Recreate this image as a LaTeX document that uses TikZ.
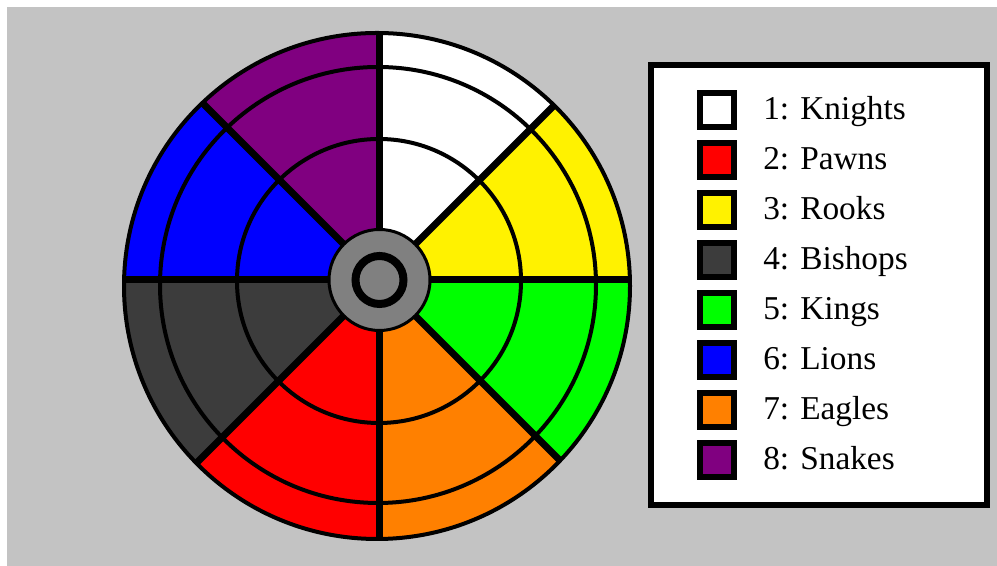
\documentclass[tikz,border=0pt]{standalone}
\usepackage{fontspec}
\setmainfont{Liberation Serif}
\usetikzlibrary{positioning}
\definecolor{PanelGray}{RGB}{195,195,195}
\definecolor{HubGray}{RGB}{128,128,128}
\definecolor{PawnRed}{RGB}{255,0,0}
\definecolor{RookYellow}{RGB}{255,242,0}
\definecolor{BishopGray}{RGB}{60,60,60}
\definecolor{KingGreen}{RGB}{0,255,0}
\definecolor{LionBlue}{RGB}{0,0,255}
\definecolor{EagleOrange}{RGB}{255,128,0}
\definecolor{SnakePurple}{RGB}{128,0,128}

\begin{document}
\begin{tikzpicture}[x=0.75pt, y=0.75pt]
\tikzset{
  ringline/.style={draw=black, line width=3pt},
  spokeline/.style={draw=black, line width=5.25pt},
  keybox/.style={draw=black, line width=4.5pt, minimum size=25.5pt, inner sep=0pt},
  keytext/.style={anchor=base west, inner sep=0pt, font=\fontsize{25}{30}\selectfont}
}
\useasboundingbox (0,0) rectangle (997,566);
\fill[PanelGray] (7,0) rectangle (997,559);

% wheel
\coordinate (hub) at (379.5,286);
\coordinate (rim) at (377,280);
\coordinate (midring) at (378,281);
\coordinate (innerring) at (379,285);
\begin{scope}
  \clip (rim) circle[radius=253];
  \foreach \a/\c in {0/RookYellow, 45/white, 90/SnakePurple, 135/LionBlue,
                     180/BishopGray, 225/PawnRed, 270/EagleOrange, 315/KingGreen}
    \fill[\c] (hub) -- +(\a:420) -- +(\a+22.5:420) -- +(\a+45:420) -- cycle;
  \draw[ringline] (innerring) circle[radius=142];
  \draw[ringline] (midring) circle[radius=218];
  \foreach \a in {0,45,...,315}
    \draw[spokeline] (hub) -- +(\a:300);
\end{scope}
\draw[ringline] (rim) circle[radius=253];
\draw[fill=HubGray, line width=2.25pt] (hub) circle[radius=50.5];
\draw[line width=6pt] (hub) circle[radius=24];

% legend
\draw[line width=4.5pt, fill=white] (651,501) rectangle (987,61);
\foreach \i/\c/\t in {1/white/Knights, 2/PawnRed/Pawns, 3/RookYellow/Rooks,
                      4/BishopGray/Bishops, 5/KingGreen/Kings, 6/LionBlue/Lions,
                      7/EagleOrange/Eagles, 8/SnakePurple/Snakes}
{
  \node[keybox, fill=\c] (key\i) at (717,{456-50*(\i-1)}) {};
  \node[keytext] (label\i) at (763,{446-50*(\i-1)}) {\i: \t};
}
\end{tikzpicture}
\end{document}
